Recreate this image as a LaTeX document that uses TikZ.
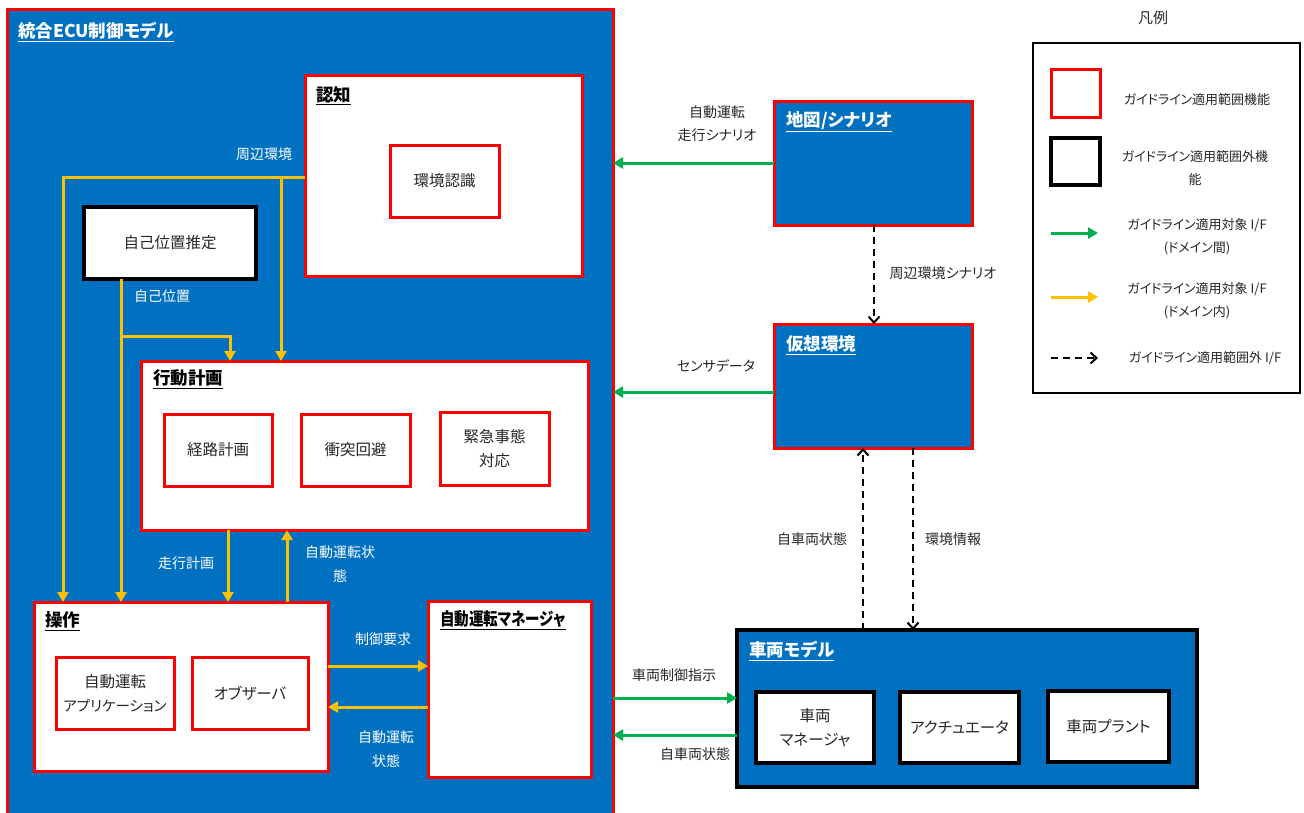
\documentclass[tikz,border=0pt]{standalone}
\usepackage{fontspec}
\usepackage{graphicx}
\setmainfont{Noto Sans CJK JP}[RawFeature=+palt]
\usetikzlibrary{arrows.meta}
\definecolor{ecublue}{HTML}{0070C0}
\definecolor{grn}{HTML}{00B050}
\definecolor{ylw}{HTML}{FFC000}
\definecolor{txt}{HTML}{262626}
\tikzset{
  base/.style={anchor=north west, inner sep=0pt, outer sep=0pt},
  redbox/.style={base, draw=red, line width=3pt, fill=white, text=txt, align=center, font=\fontsize{15.5}{24}\selectfont},
  blkbox/.style={base, draw=black, line width=3.5pt, fill=white, text=txt, align=center, font=\fontsize{15.5}{24}\selectfont},
  bluered/.style={base, draw=red, line width=3pt, fill=ecublue},
  blueblk/.style={base, draw=black, line width=4pt, fill=ecublue},
  wtitle/.style={anchor=west, inner sep=0pt, text=white, font=\fontsize{17.5}{20}\selectfont\bfseries},
  btitle/.style={anchor=west, inner sep=0pt, text=black, font=\fontsize{17.5}{20}\selectfont\bfseries},
  wlab/.style={inner sep=0pt, text=white, align=center, font=\fontsize{14}{23.5}\selectfont},
  blab/.style={inner sep=0pt, text=txt, align=center, font=\fontsize{14}{23}\selectfont},
  leglab/.style={inner sep=0pt, text=txt, align=center, font=\fontsize{13}{23}\selectfont},
  yarr/.style={draw=ylw, line width=3pt, -{Triangle[length=10pt,width=11pt]}},
  garr/.style={draw=grn, line width=3pt, -{Triangle[length=10pt,width=11pt]}},
  darr/.style={draw=black, line width=2pt, dash pattern=on 7pt off 5pt, -{Straight Barb[length=6pt,width=11pt,line width=2pt]}},
}
\begin{document}
\begin{tikzpicture}[x=1pt,y=-1pt]
\useasboundingbox (0,0) rectangle (1304,812);
% main ECU box
\node[bluered, minimum width=606, minimum height=808] (ecu) at (7,9) {};
\node[wtitle] (ecut) at (18,32) {\underline{統合ECU制御モデル}};
% 認知
\node[redbox, minimum width=277, minimum height=201] (ninchi) at (305,75) {};
\node[btitle] (ninchit) at (316,96) {\underline{認知}};
\node[redbox, minimum width=109, minimum height=72] (kankyo) at (390,145) {環境認識};
% 自己位置推定
\node[blkbox, minimum width=172, minimum height=72] (jiko) at (84,207) {自己位置推定};
% 行動計画
\node[redbox, minimum width=447, minimum height=169] (koudou) at (141,361) {};
\node[btitle] (koudout) at (153,379) {\underline{行動計画}};
\node[redbox, minimum width=108, minimum height=72] (keiro) at (164,414) {経路計画};
\node[redbox, minimum width=109, minimum height=72] (shototsu) at (301,414) {衝突回避};
\node[redbox, minimum width=109, minimum height=73] (kinkyu) at (440,412) {緊急事態\\対応};
% 操作
\node[redbox, minimum width=294, minimum height=169] (sousa) at (34,602) {};
\node[btitle] (sousat) at (45,621) {\underline{操作}};
\node[redbox, minimum width=118, minimum height=72] (app) at (56,657) {自動運転\\{\fontsize{14.5}{24}\selectfont アプリケーション}};
\node[redbox, minimum width=116, minimum height=72] (obs) at (192,657) {オブザーバ};
% 自動運転マネージャ
\node[redbox, minimum width=163, minimum height=176] (mgr) at (428,601) {};
\node[btitle] (mgrt) at (440,620) {\scalebox{0.83}[1]{\underline{自動運転マネージャ}}};
% right side
\node[bluered, minimum width=198, minimum height=124] (map) at (774,101) {};
\node[wtitle] (mapt) at (786,122) {\underline{地図/シナリオ}};
\node[bluered, minimum width=198, minimum height=124] (virt) at (774,324) {};
\node[wtitle] (virtt) at (786,345) {\underline{仮想環境}};
\node[blueblk, minimum width=460, minimum height=157] (veh) at (737,630) {};
\node[wtitle] (veht) at (749,651) {\underline{車両モデル}};
\node[blkbox, minimum width=118, minimum height=71] (vmgr) at (756,692) {車両\\マネージャ};
\node[blkbox, minimum width=119, minimum height=71] (act) at (900,692) {アクチュエータ};
\node[blkbox, minimum width=121, minimum height=71] (plant) at (1048,691) {車両プラント};

% yellow connectors
\coordinate (jA) at (63,177);
\coordinate (jB) at (281,177);
\coordinate (jC) at (121,336);
\coordinate (jD) at (230,336);
\draw[yarr] (ninchi.west |- jA) -- (jA) -- (jA |- sousa.north);
\draw[yarr] (jB) -- (jB |- koudou.north);
\draw[yarr] (jiko.south -| jC) -- (jC |- sousa.north);
\draw[yarr] (jC) -- (jD) -- (jD |- koudou.north);
\coordinate (jE) at (228,560);
\coordinate (jF) at (287,560);
\draw[yarr] (koudou.south -| jE) -- (sousa.north -| jE);
\draw[yarr] (sousa.north -| jF) -- (koudou.south -| jF);
\coordinate (jG) at (380,666);
\coordinate (jH) at (380,707);
\draw[yarr] (sousa.east |- jG) -- (mgr.west |- jG);
\draw[yarr] (mgr.west |- jH) -- (sousa.east |- jH);

% green connectors
\coordinate (gA) at (700,163);
\coordinate (gB) at (700,392);
\coordinate (gC) at (680,698);
\coordinate (gD) at (680,735);
\draw[garr] (map.west |- gA) -- (ecu.east |- gA);
\draw[garr] (virt.west |- gB) -- (ecu.east |- gB);
\draw[garr] (ecu.east |- gC) -- (veh.west |- gC);
\draw[garr] (veh.west |- gD) -- (ecu.east |- gD);

% dashed connectors
\coordinate (dA) at (874,270);
\coordinate (dB) at (863,540);
\coordinate (dC) at (913,540);
\draw[darr] (map.south -| dA) -- (virt.north -| dA);
\draw[darr] (veh.north -| dB) -- (virt.south -| dB);
\draw[darr] (virt.south -| dC) -- (veh.north -| dC);

% labels
\node[wlab] (l1) at (264,154) {周辺環境};
\node[wlab] (l2) at (162,296) {自己位置};
\node[wlab] (l3) at (186,563) {走行計画};
\node[wlab] (l4) at (340,564) {自動運転状\\態};
\node[wlab] (l5) at (383,639) {制御要求};
\node[wlab] (l6) at (386,749) {自動運転\\状態};
\node[blab] (l7) at (717,124) {自動運転\\走行シナリオ};
\node[blab] (l8) at (716,366) {センサデータ};
\node[blab] (l9) at (943,273) {周辺環境シナリオ};
\node[blab] (l10) at (812,539) {自車両状態};
\node[blab] (l11) at (953,539) {環境情報};
\node[blab] (l12) at (674,675) {車両制御指示};
\node[blab] (l13) at (695,754) {自車両状態};

% legend
\node[inner sep=0pt, text=txt, font=\fontsize{15}{18}\selectfont] (legt) at (1153,18) {凡例};
\node[base, draw=black, line width=2pt, minimum width=267, minimum height=350] (leg) at (1033,43) {};
\node[base, draw=red, line width=3pt, minimum width=49, minimum height=48] (legr) at (1051,69) {};
\node[base, draw=black, line width=3.5pt, minimum width=49, minimum height=47] (legk) at (1051,138) {};
\coordinate (lg1s) at (1051,233); \coordinate (lg1e) at (1098,233);
\coordinate (lg2s) at (1051,297); \coordinate (lg2e) at (1098,297);
\coordinate (lg3s) at (1051,358); \coordinate (lg3e) at (1098,358);
\draw[garr] (lg1s) -- (lg1e);
\draw[yarr] (lg2s) -- (lg2e);
\draw[darr] (lg3s) -- (lg3e);
\node[leglab] (lt1) at (1197,100) {ガイドライン適用範囲機能};
\node[leglab] (lt2) at (1195,168) {ガイドライン適用範囲外機\\能};
\node[leglab] (lt3) at (1197,237) {ガイドライン適用対象 I/F\\(ドメイン間)};
\node[leglab] (lt4) at (1197,301) {ガイドライン適用対象 I/F\\(ドメイン内)};
\node[leglab] (lt5) at (1205,358) {ガイドライン適用範囲外 I/F};
\end{tikzpicture}
\end{document}
